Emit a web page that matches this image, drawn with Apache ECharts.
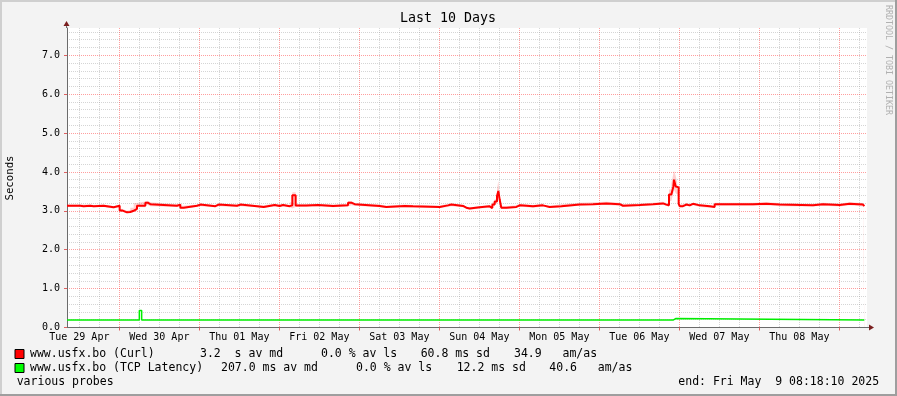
<!DOCTYPE html>
<html><head><meta charset="utf-8">
<script src="https://cdn.jsdelivr.net/npm/echarts@6/dist/echarts.min.js"></script>
<style>html,body{margin:0;padding:0;background:#f3f3f3}#c{width:897px;height:396px}</style>
</head><body><div id="c"></div>
<script>
// ---- data (x = hours since graph start, Tue 29 Apr 08:18:10) ----
const dayLabels = ['Tue 29 Apr','Wed 30 Apr','Thu 01 May','Fri 02 May','Sat 03 May','Sun 04 May','Mon 05 May','Tue 06 May','Wed 07 May','Thu 08 May'];
const curlHours = [0,4,5,7,8,11,12,14,15.8,16.5,18,19,20,21,23.5,24.2,25,33,34,35,39,40,44.5,45.5,51,52,57,59,62.3,63.8,64.8,66.8,67.6,68.6,71.8,72.3,75.3,79.8,84.3,85.3,86.3,93.8,95.8,101.3,101.8,103.8,111.8,114.3,115.3,118.8,119.8,120.8,123.8,126.8,127.6,128.3,129,129.4,129.8,130.3,131.8,134.8,135.8,139.8,142.8,144.8,148.3,153.8,157.8,161.8,165.8,166.8,171.8,175.8,178.8,179.8,180.6,181.3,181.9,182.1,182.6,183,183.5,183.8,184.8,185.8,186.8,187.8,189.8,192.8,194.3,205.8,209.8,213.8,223.8,226.8,231.8,234.8,238.8,239.2];
const curlValues = [3.13,3.12,3.13,3.12,3.13,3.12,3.09,3.13,3.01,2.96,2.97,3.00,3.05,3.13,3.21,3.17,3.13,3.16,3.08,3.13,3.16,3.12,3.16,3.13,3.16,3.12,3.10,3.15,3.125,3.15,3.12,3.14,3.40,3.135,3.125,3.15,3.125,3.14,3.21,3.17,3.125,3.10,3.125,3.16,3.115,3.10,3.14,3.16,3.125,3.08,3.06,3.09,3.115,3.07,3.16,3.24,3.38,3.51,3.29,3.08,3.10,3.14,3.115,3.14,3.10,3.12,3.16,3.17,3.19,3.17,3.13,3.15,3.17,3.19,3.16,3.14,3.42,3.45,3.62,3.80,3.63,3.60,3.18,3.12,3.16,3.14,3.18,3.14,3.116,3.10,3.17,3.18,3.16,3.14,3.17,3.15,3.18,3.16,3.12,3.12];
// spread of the individual probes (light pink band around the median)
const curlLow = [3.10,3.09,3.10,3.09,3.10,3.08,3.06,3.10,2.98,2.94,2.95,2.97,3.02,3.09,3.15,3.12,3.10,3.12,3.05,3.10,3.12,3.09,3.12,3.10,3.12,3.09,3.07,3.12,3.09,3.12,3.09,3.06,3.10,3.10,3.09,3.12,3.09,3.11,3.14,3.13,3.09,3.07,3.09,3.12,3.08,3.07,3.10,3.12,3.09,3.05,3.03,3.06,3.08,3.04,3.12,3.18,3.30,3.35,3.12,3.05,3.07,3.11,3.08,3.11,3.07,3.09,3.13,3.14,3.15,3.13,3.10,3.12,3.14,3.15,3.13,3.10,3.25,3.30,3.45,3.55,3.45,3.40,3.10,3.09,3.13,3.11,3.14,3.10,3.08,3.07,3.13,3.14,3.12,3.11,3.13,3.11,3.14,3.11,3.09,3.09];
const curlHigh = [3.16,3.16,3.16,3.15,3.16,3.15,3.12,3.16,3.05,3.00,3.02,3.08,3.20,3.24,3.26,3.22,3.17,3.19,3.13,3.16,3.19,3.15,3.19,3.16,3.19,3.15,3.14,3.18,3.16,3.18,3.15,3.22,3.48,3.17,3.16,3.18,3.16,3.18,3.25,3.20,3.16,3.13,3.16,3.19,3.15,3.13,3.18,3.19,3.16,3.11,3.09,3.12,3.15,3.10,3.22,3.30,3.55,3.77,3.40,3.12,3.14,3.18,3.15,3.19,3.13,3.17,3.21,3.22,3.23,3.21,3.17,3.19,3.21,3.23,3.20,3.20,3.55,3.70,3.95,4.03,3.90,3.75,3.30,3.17,3.20,3.18,3.21,3.17,3.15,3.13,3.21,3.22,3.20,3.18,3.21,3.19,3.22,3.20,3.16,3.16];
const tcpHours = [0,21.7,22.4,129.8,130.4,181.8,182.6,183.2,239.2];
const tcpValues = [0.19,0.44,0.19,0.21,0.19,0.23,0.21,0.19,0.19];

// ---- axis layout ----
const firstNoon = 3.697, firstMidnight = 15.697, spanHours = 240;
const noonHours = dayLabels.map((d,i)=>firstNoon + 24*i);
const midnightHours = dayLabels.map((d,i)=>firstMidnight + 24*i).filter(h=>h<spanHours);
const minorHours = [];
for (let k = 0; firstNoon + 6*k < spanHours; k++) { if (k % 4 !== 2) minorHours.push(firstNoon + 6*k); }
const minorY = [];
for (let k = 1; k * 0.2 < 7.7; k++) { if (k % 5 !== 0) minorY.push(+(k*0.2).toFixed(1)); }
const majorY = [0,1,2,3,4,5,6,7];

const MONO = '"DejaVu Sans Mono", monospace';
const minorColor = 'rgba(150,150,150,0.4)', majorColor = 'rgba(255,40,40,0.45)';

const L1 = 354.3, L2 = 368.3, L3 = 382.3;
const legendPieces = [
  ['www.usfx.bo (Curl)',30,L1],['3.2  s av md',200,L1],['0.0 % av ls',321,L1],['60.8 ms sd',420.7,L1],['34.9   am/as',514,L1],
  ['www.usfx.bo (TCP Latency)',30,L2],['207.0 ms av md',221,L2],['0.0 % av ls',356,L2],['12.2 ms sd',456.7,L2],['40.6   am/as',549.3,L2],
  ['various probes',16.7,L3],['end: Fri May  9 08:18:10 2025',678.3,L3]
];

const graphics = [
  {type:'rect', shape:{x:0,y:0,width:897,height:2}, style:{fill:'#cfcfcf'}},
  {type:'rect', shape:{x:0,y:0,width:2,height:396}, style:{fill:'#cfcfcf'}},
  {type:'rect', shape:{x:0,y:394,width:897,height:2}, style:{fill:'#9e9e9e'}},
  {type:'rect', shape:{x:895,y:0,width:2,height:396}, style:{fill:'#9e9e9e'}},
  {type:'text', x:448, y:19, style:{text:'Last 10 Days', font:'13.3px '+MONO, fill:'#000', align:'center', verticalAlign:'middle'}},
  {type:'text', x:10, y:178, rotation:Math.PI/2, style:{text:'Seconds', font:'10.7px '+MONO, fill:'#000', align:'center', verticalAlign:'middle'}},
  {type:'text', x:888, y:60, rotation:-Math.PI/2, style:{text:'RRDTOOL / TOBI OETIKER', font:'8.3px '+MONO, fill:'#b0b0b0', align:'center', verticalAlign:'middle'}},
  {type:'line', shape:{x1:66.5,y1:28,x2:66.5,y2:24}, style:{stroke:'#6b6b6b', lineWidth:1}},
  {type:'polygon', shape:{points:[[63.5,26],[69.5,26],[66.5,21]]}, style:{fill:'#7a1f1f'}},
  {type:'line', shape:{x1:867,y1:327.5,x2:870,y2:327.5}, style:{stroke:'#6b6b6b', lineWidth:1}},
  {type:'polygon', shape:{points:[[869,324.5],[869,330.5],[874,327.5]]}, style:{fill:'#7a1f1f'}},
  {type:'rect', shape:{x:15,y:349.5,width:9,height:9}, style:{fill:'#ff0000', stroke:'#000', lineWidth:1}},
  {type:'rect', shape:{x:15,y:363.5,width:9,height:9}, style:{fill:'#00ff00', stroke:'#000', lineWidth:1}}
];
legendPieces.forEach(p=>graphics.push({type:'text', x:p[1], y:p[2], style:{text:p[0], font:'11.5px '+MONO, fill:'#000', align:'left', verticalAlign:'middle'}}));

const chart = echarts.init(document.getElementById('c'));
chart.setOption({
  animation:false,
  backgroundColor:'#f3f3f3',
  grid:{left:67, top:28, width:800, height:299.5, show:true, backgroundColor:'#ffffff', borderWidth:0, outerBoundsMode:'none'},
  xAxis:[
    {type:'value', min:0, max:spanHours, position:'bottom', z:8,
     axisLine:{show:false}, axisLabel:{show:false},
     axisTick:{show:false, customValues:minorHours},
     splitLine:{show:true, lineStyle:{color:minorColor, type:[1,1], width:1}}},
    {type:'value', min:0, max:spanHours, position:'bottom', z:9,
     axisLine:{show:true, onZero:false, lineStyle:{color:'#6b6b6b', width:1}},
     axisTick:{show:true, customValues:midnightHours, length:3, lineStyle:{color:'#e06060'}},
     axisLabel:{show:true, customValues:noonHours, formatter:v=>dayLabels[Math.round((v-firstNoon)/24)], margin:5, color:'#000', fontFamily:MONO, fontSize:10},
     splitLine:{show:true, lineStyle:{color:majorColor, type:[1,1], width:1}}}
  ],
  yAxis:[
    {type:'value', min:0, max:7.7, position:'left', z:8,
     axisLine:{show:false}, axisTick:{show:false, customValues:minorY}, axisLabel:{show:false},
     splitLine:{show:true, lineStyle:{color:minorColor, type:[1,1], width:1}}},
    {type:'value', min:0, max:7.7, position:'left', z:9,
     axisLine:{show:true, onZero:false, lineStyle:{color:'#6b6b6b', width:1}},
     axisTick:{show:true, length:3, customValues:majorY, lineStyle:{color:'#e06060'}},
     axisLabel:{customValues:majorY, formatter:v=>v.toFixed(1), margin:7, color:'#000', fontFamily:MONO, fontSize:10},
     splitLine:{show:true, showMinLine:false, lineStyle:{color:majorColor, type:[1,1], width:1}}}
  ],
  series:[
    {type:'line', xAxisIndex:0, yAxisIndex:1, step:'end', showSymbol:false, silent:true, z:2,
     lineStyle:{opacity:0}, areaStyle:{color:'#ffd0d0', opacity:1, origin:'start'},
     data:curlHours.map((h,i)=>[h,curlHigh[i]])},
    {type:'line', xAxisIndex:0, yAxisIndex:1, step:'end', showSymbol:false, silent:true, z:3,
     lineStyle:{opacity:0}, areaStyle:{color:'#ffffff', opacity:1, origin:'start'},
     data:curlHours.map((h,i)=>[h,curlLow[i]])},
    {type:'line', xAxisIndex:0, yAxisIndex:1, step:'end', showSymbol:false, silent:true, z:12,
     lineStyle:{color:'#00ee00', width:1.5}, data:tcpHours.map((h,i)=>[h,tcpValues[i]])},
    {type:'line', xAxisIndex:0, yAxisIndex:1, step:'end', showSymbol:false, silent:true, z:13,
     lineStyle:{color:'#ff0000', width:2}, data:curlHours.map((h,i)=>[h,curlValues[i]])}
  ],
  graphic:graphics
});
</script></body></html>
